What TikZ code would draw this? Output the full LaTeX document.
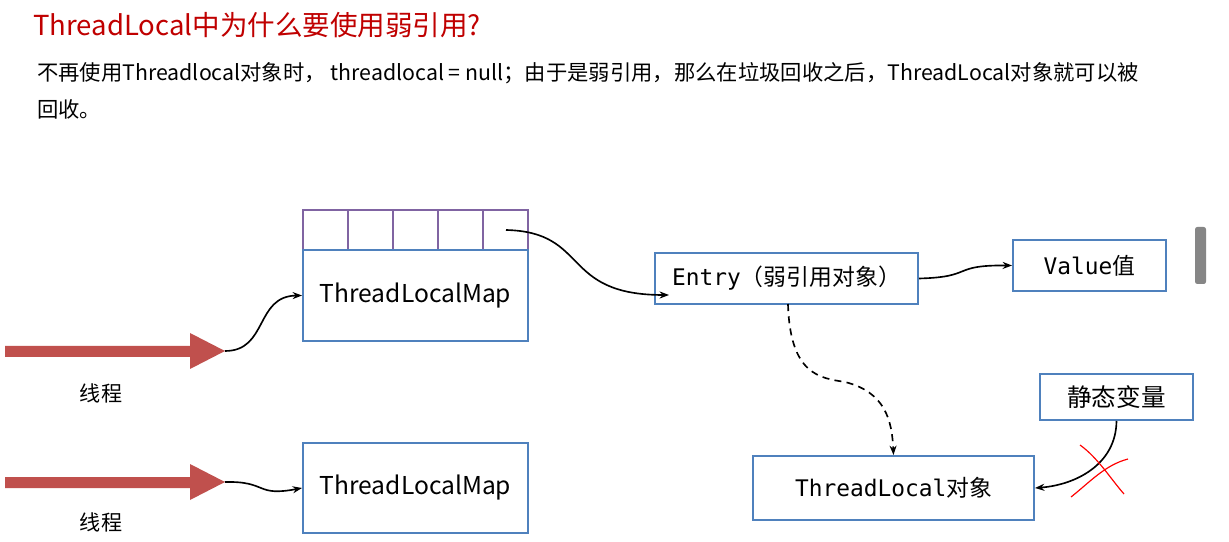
\documentclass[tikz,border=0pt]{standalone}
\usepackage{fontspec}
\setmainfont{Noto Sans CJK SC}
\newfontfamily\monof{DejaVu Sans Mono}
\usetikzlibrary{arrows.meta}
\definecolor{boxblue}{RGB}{79,129,189}
\definecolor{cellpurple}{RGB}{128,100,162}
\definecolor{threadred}{RGB}{192,80,77}
\definecolor{titlered}{RGB}{192,0,0}
\begin{document}
\begin{tikzpicture}[x=0.03cm,y=-0.03cm,
  bluebox/.style={draw=boxblue,line width=1.7pt,inner sep=0pt,fill=white},
  cellbox/.style={draw=cellpurple,line width=1.7pt,inner sep=0pt,minimum width=45*0.03cm,minimum height=40*0.03cm},
  conn/.style={line width=1.4pt,-{Stealth[length=8pt,width=6pt]}},
  thread/.style={fill=threadred,draw=none},
  cross/.style={draw=red,line width=1pt},
  lbl/.style={inner sep=0pt,font=\fontsize{18pt}{20pt}\selectfont}
]
\useasboundingbox[fill=white] (0,0) rectangle (1229,542);

% title and text
\node[anchor=west,inner sep=0pt,text=titlered,font=\fontsize{23.5pt}{26pt}\selectfont] (title) at (33,25) {ThreadLocal中为什么要使用弱引用?};
\node[anchor=west,inner sep=0pt,font=\fontsize{18.2pt}{20pt}\selectfont] (line1) at (37,73) {不再使用Threadlocal对象时，\ threadlocal = null；由于是弱引用，那么在垃圾回收之后，ThreadLocal对象就可以被};
\node[anchor=west,inner sep=0pt,font=\fontsize{18.2pt}{20pt}\selectfont] (line2) at (37,109) {回收。};

% scrollbar
\fill[gray!95,rounded corners=2pt] (1195,227) rectangle (1206,284);

% cells
\foreach \i in {0,...,4}{
  \node[cellbox] (c\i) at (325.5+45*\i,230) {};
}
% maps
\node[bluebox,minimum width=225*0.03cm,minimum height=91*0.03cm,font=\fontsize{21pt}{24pt}\selectfont] (map1) at (415.5,295.5) {ThreadLocalMap};
\node[bluebox,minimum width=225*0.03cm,minimum height=90*0.03cm,font=\fontsize{21pt}{24pt}\selectfont] (map2) at (415.5,488) {ThreadLocalMap};

\node[bluebox,minimum width=263*0.03cm,minimum height=51*0.03cm,font=\fontsize{19.5pt}{22pt}\selectfont] (entry) at (786.5,278.5) {{\monof Entry}（弱引用对象）};
\node[bluebox,minimum width=153*0.03cm,minimum height=51*0.03cm,font=\fontsize{19.5pt}{22pt}\selectfont] (value) at (1089.5,265.5) {{\monof Value}值};
\node[bluebox,minimum width=153*0.03cm,minimum height=46*0.03cm,font=\fontsize{21pt}{22pt}\selectfont] (static) at (1116.5,397) {静态变量};
\node[bluebox,minimum width=281*0.03cm,minimum height=64*0.03cm,font=\fontsize{19.5pt}{22pt}\selectfont] (tl) at (893.5,488) {{\monof ThreadLocal}对象};

% thread arrows
\fill[thread] (5,346) -- (190,346) -- (190,333) -- (225,351) -- (190,369) -- (190,357) -- (5,357) -- cycle;
\fill[thread] (5,477) -- (190,477) -- (190,464) -- (225,482) -- (190,500) -- (190,488) -- (5,488) -- cycle;
\coordinate (t1) at (225,351);
\coordinate (t2) at (225,482);
\node[lbl] (th1) at (101,393) {线程};
\node[lbl] (th2) at (101,522) {线程};

% connectors
\draw[conn] (t1) .. controls (268,351) and (255,296) .. (map1.west);
\draw[conn] (t2) .. controls (268,481) and (255,497) .. (map2.west);
\coordinate (cs) at (c4.center);
\coordinate (ce) at (669,295);
\draw[conn] ([xshift=0.5*0.03cm]cs) .. controls (590,232) and (560,295) .. (ce);
\draw[conn] (entry.east) .. controls (975,277) and (950,265) .. (value.west);
\coordinate (es) at (788,304);
\draw[conn,dashed,dash pattern=on 6pt off 4.5pt] (es) .. controls (790,375) and (820,378) .. (845,382) .. controls (885,392) and (892,420) .. (tl.north);
\draw[conn] (static.south) .. controls (1116,465) and (1075,485) .. (tl.east);

% red cross
\draw[cross] (1080,445) .. controls (1098,458) and (1110,478) .. (1124,494);
\draw[cross] (1071,497) .. controls (1090,482) and (1105,465) .. (1128,459);
\end{tikzpicture}
\end{document}
